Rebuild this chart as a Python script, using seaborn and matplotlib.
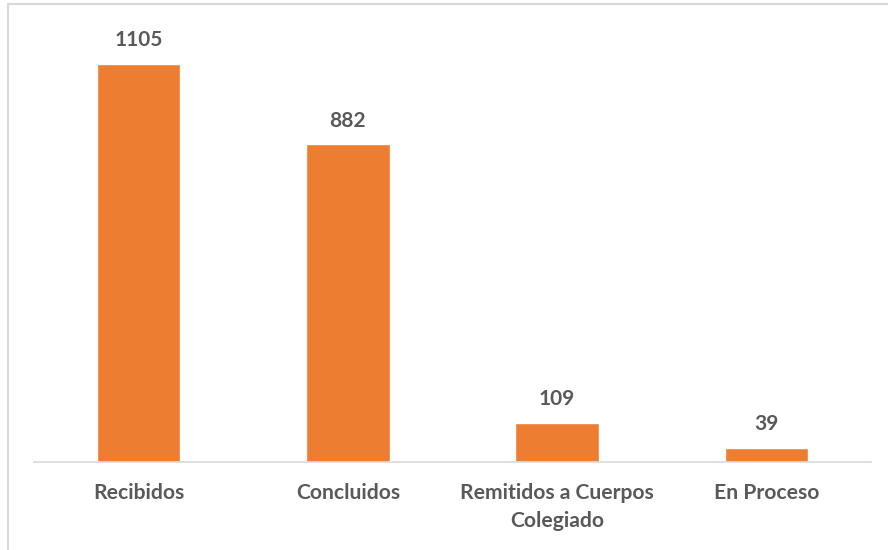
import matplotlib
matplotlib.use("Agg")
import matplotlib.pyplot as plt
from matplotlib.patches import Rectangle
import pandas as pd
import seaborn as sns

categories = ["Recibidos", "Concluidos", "Remitidos a Cuerpos\nColegiado", "En Proceso"]
values = [1105, 882, 109, 39]

BAR_COLOR = "#ED7D31"
TEXT_COLOR = "#595959"

df = pd.DataFrame({"Categoria": categories, "Total": values})

sns.set_theme(style="white")
plt.rcParams["font.family"] = ["Lato", "DejaVu Sans"]

W, H = 888, 550
fig = plt.figure(figsize=(W / 100, H / 100), dpi=100)
ax = fig.add_axes([34 / W, (H - 462) / H, (871 - 34) / W, 432 / H])

sns.barplot(data=df, x="Categoria", y="Total", color=BAR_COLOR, width=0.4,
            saturation=1, ax=ax)

ax.set_ylim(0, 1200)
ax.set_xlim(-0.5, len(categories) - 0.5)
ax.set_xlabel("")
ax.set_ylabel("")
ax.set_yticks([])
for side in ["top", "right", "left"]:
    ax.spines[side].set_visible(False)
ax.spines["bottom"].set_color("#D9D9D9")
ax.spines["bottom"].set_linewidth(1.2)
ax.tick_params(axis="x", length=0, pad=15, labelsize=15.2, labelcolor=TEXT_COLOR)
for lbl in ax.get_xticklabels():
    lbl.set_fontweight("bold")
    lbl.set_linespacing(1.5)

for cont in ax.containers:
    ax.bar_label(cont, labels=[str(v) for v in values], padding=10,
                 fontsize=15, fontweight="bold", color=TEXT_COLOR)

# chart area border
fig.patches.append(Rectangle((8 / W, -0.05), 1.1, 1 - 4 / H + 0.05,
                             transform=fig.transFigure, fill=False,
                             edgecolor="#D9D9D9", linewidth=1.5))

fig.savefig("out.png", dpi=100, facecolor="white")
